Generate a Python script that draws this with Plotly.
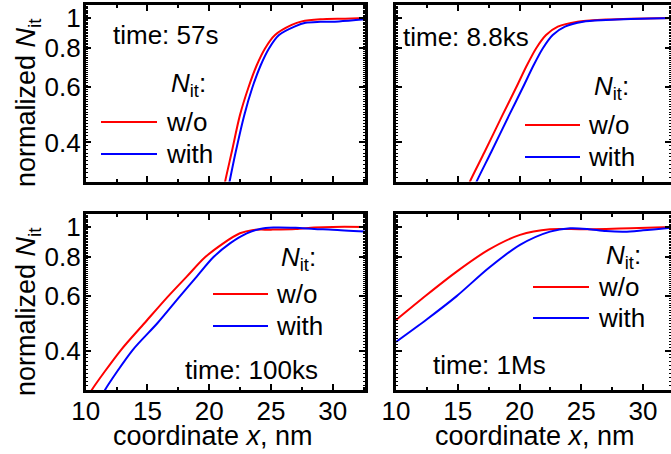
import math
import plotly.graph_objects as go

# ---------------- data ----------------
x_ticks = [10, 15, 20, 25, 30]
y_ticks = [0.4, 0.6, 0.8, 1]
y_tick_text = ["0.4", "0.6", "0.8", "1"]
times = ["time: 57s", "time: 8.8ks", "time: 100ks", "time: 1Ms"]
series_names = ["w/o", "with"]

# panel 1: 57 s
x57_wo = [21.15, 21.29, 21.82, 22.49, 23.17, 23.85, 24.52, 25.33, 26.68, 27.5, 29.0, 31.0, 32.6]
y57_wo = [0.28, 0.30, 0.372, 0.489, 0.598, 0.706, 0.799, 0.882, 0.950, 0.975, 0.990, 0.995, 1.0]
x57_with = [21.5, 21.65, 22.14, 22.84, 23.49, 24.17, 24.84, 25.65, 26.95, 27.8, 29.0, 30.5, 32.6]
y57_with = [0.28, 0.30, 0.372, 0.489, 0.598, 0.706, 0.799, 0.882, 0.940, 0.965, 0.972, 0.975, 0.99]

# panel 2: 8.8 ks
x88_wo = [15.85, 15.99, 17.16, 18.62, 19.72, 20.60, 21.34, 22.15, 23.10, 24.70, 27.0, 29.0, 32.3]
y88_wo = [0.29, 0.30, 0.372, 0.489, 0.598, 0.706, 0.799, 0.882, 0.938, 0.973, 0.988, 0.995, 1.0]
x88_with = [16.39, 16.53, 17.70, 19.16, 20.26, 21.14, 21.88, 22.69, 23.68, 25.15, 27.0, 29.0, 32.3]
y88_with = [0.29, 0.30, 0.372, 0.489, 0.598, 0.706, 0.799, 0.882, 0.938, 0.973, 0.985, 0.993, 1.0]

# panel 3: 100 ks
x100_wo = [10.3, 10.49, 12.85, 14.75, 16.69, 18.18, 19.66, 21.14, 22.49, 23.57, 25.0, 27.0, 28.5, 30.0, 32.6]
y100_wo = [0.29, 0.30, 0.403, 0.491, 0.600, 0.693, 0.799, 0.886, 0.954, 0.978, 0.980, 0.985, 0.995, 1.0, 1.0]
x100_with = [11.4, 11.56, 13.8, 15.8, 17.64, 18.99, 20.33, 21.68, 23.04, 24.11, 25.2, 27.0, 28.5, 30.0, 32.6]
y100_with = [0.29, 0.30, 0.403, 0.491, 0.600, 0.693, 0.799, 0.886, 0.954, 0.985, 0.995, 0.993, 0.985, 0.980, 0.966]

# panel 4: 1 Ms
x1M_wo = [10.0, 12.48, 14.91, 17.48, 20.04, 22.47, 24.9, 27.0, 29.0, 32.3]
y1M_wo = [0.503, 0.605, 0.719, 0.844, 0.943, 0.983, 0.983, 0.985, 0.990, 1.0]
x1M_with = [10.0, 12.48, 14.91, 17.48, 20.04, 22.47, 24.1, 25.5, 27.0, 28.5, 30.0, 32.3]
y1M_with = [0.428, 0.505, 0.600, 0.737, 0.876, 0.966, 0.990, 0.985, 0.970, 0.965, 0.975, 0.995]

panels = [
    (x57_wo, y57_wo, x57_with, y57_with),
    (x88_wo, y88_wo, x88_with, y88_with),
    (x100_wo, y100_wo, x100_with, y100_with),
    (x1M_wo, y1M_wo, x1M_with, y1M_with),
]

# ---------------- layout helpers ----------------
W, H = 671, 454
RED, BLUE = "#ff0000", "#0000ff"
FONT = "Liberation Sans, Arial, sans-serif"
FS = 26
FS_TITLE = 27


def fx(px):
    return px / W


def fy(py):
    return 1 - py / H


fig = go.Figure()
names = ["", "2", "3", "4"]
for i, (xa, ya, xb, yb) in enumerate(panels):
    n = names[i]
    fig.add_trace(go.Scatter(x=xa, y=ya, mode="lines", name=series_names[0],
                             line=dict(color=RED, width=2, shape="spline", smoothing=0.8),
                             xaxis="x" + n, yaxis="y" + n, showlegend=False))
    fig.add_trace(go.Scatter(x=xb, y=yb, mode="lines", name=series_names[1],
                             line=dict(color=BLUE, width=2, shape="spline", smoothing=0.8),
                             xaxis="x" + n, yaxis="y" + n, showlegend=False))

common = dict(showline=True, linewidth=2.5, linecolor="black", mirror="ticks",
              ticks="inside", ticklen=6, tickwidth=2, tickcolor="black",
              showgrid=False, zeroline=False, automargin=False,
              tickfont=dict(family=FONT, size=FS, color="black"))

x_left = [fx(85.7), fx(365)]
x_right = [fx(396), 1.0]
y_top = [fy(181.5), fy(5)]
y_bot = [fy(390), fy(214)]
xr_left = [10, 10 + (365 - 85.7) / 12.35]
xr_right = [10, 10 + (671 - 396) / 12.35]
yr = [math.log10(0.3), math.log10(1.1)]

doms = [(x_left, y_top, xr_left, False, True),
        (x_right, y_top, xr_right, False, False),
        (x_left, y_bot, xr_left, True, True),
        (x_right, y_bot, xr_right, True, False)]

lay = {}
for i, (xd, yd, xr, xlab, ylab) in enumerate(doms):
    n = names[i]
    lay["xaxis" + n] = dict(common, domain=xd, range=xr, anchor="y" + n,
                            tickmode="array", tickvals=x_ticks,
                            ticktext=[str(t) for t in x_ticks],
                            showticklabels=xlab, ticklabelstandoff=-4,
                            minor=dict(ticks="inside", dtick=2.5, tick0=10, ticklen=3,
                                       tickwidth=1.5, tickcolor="black", showgrid=False))
    lay["yaxis" + n] = dict(common, domain=yd, range=yr, type="log", anchor="x" + n,
                            tickmode="array", tickvals=y_ticks, ticktext=y_tick_text,
                            showticklabels=ylab, ticklabelstandoff=-3,
                            minor=dict(ticks="inside", dtick="L0.01", tick0=0, ticklen=2.5,
                                       tickwidth=1, tickcolor="black", showgrid=False))

annotations = []
shapes = []
tf = dict(family=FONT, size=FS, color="black")
tft = dict(family=FONT, size=FS_TITLE, color="black")

# time labels (left x, center y in px)
time_pos = [(111, 35), (401, 37), (183, 370), (431, 365)]
for t, (px, py) in zip(times, time_pos):
    annotations.append(dict(text=t, x=fx(px), y=fy(py), xref="paper", yref="paper",
                            xanchor="left", yanchor="middle", showarrow=False, font=tf))

# manual legends: (title right x, title y, line x0, line x1, red y, blue y, text x)
leg = [(208, 84, 101, 157, 122, 154, 164),
       (631, 88, 525, 580, 125, 157, 586),
       (318, 258, 213, 268, 294, 326, 274),
       (643, 256, 533, 589, 287, 318, 596)]
for (tx, ty, l0, l1, ry, by, txx) in leg:
    annotations.append(dict(text="<i>N</i><sub>it</sub>:", x=fx(tx), y=fy(ty),
                            xref="paper", yref="paper", xanchor="right", yanchor="middle",
                            showarrow=False, font=tf))
    for col, yy, lab in [(RED, ry, series_names[0]), (BLUE, by, series_names[1])]:
        shapes.append(dict(type="line", xref="paper", yref="paper",
                           x0=fx(l0), x1=fx(l1), y0=fy(yy), y1=fy(yy),
                           line=dict(color=col, width=2)))
        annotations.append(dict(text=lab, x=fx(txx), y=fy(yy), xref="paper", yref="paper",
                                xanchor="left", yanchor="middle", showarrow=False, font=tf))

# axis titles
for cy in (103, 312):
    annotations.append(dict(text="normalized <i>N</i><sub>it</sub>", x=fx(28), y=fy(cy),
                            xref="paper", yref="paper", xanchor="center", yanchor="middle",
                            textangle=-90, showarrow=False, font=tft))
for cx in (213, 535):
    annotations.append(dict(text="coordinate <i>x</i>, nm", x=fx(cx), y=fy(436),
                            xref="paper", yref="paper", xanchor="center", yanchor="middle",
                            showarrow=False, font=tft))

fig.update_layout(template="none", width=W, height=H, margin=dict(l=0, r=0, t=0, b=0),
                  paper_bgcolor="white", plot_bgcolor="white",
                  annotations=annotations, shapes=shapes, showlegend=False, **lay)

fig.write_html("out.html", config={"displayModeBar": False},
               post_script="document.body.style.margin='0';document.body.style.overflow='hidden';")
